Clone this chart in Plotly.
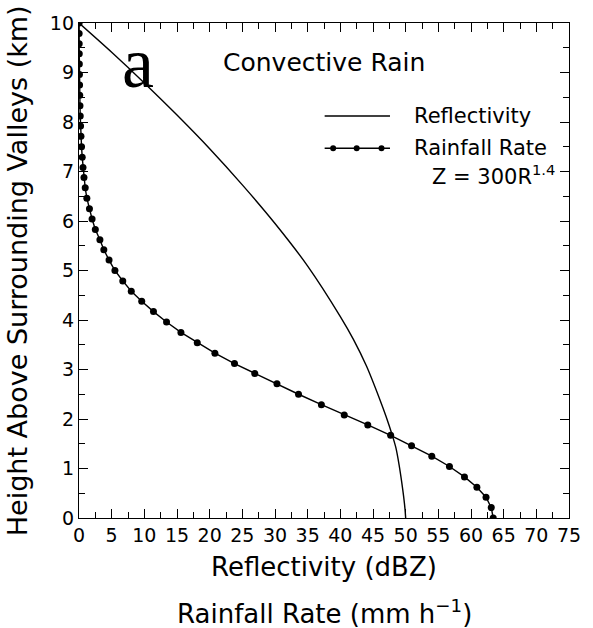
import plotly.graph_objects as go

# Reflectivity profile (dBZ) versus height (km)
refl_dbz = [0, 5, 10, 15, 20, 25, 30, 35, 40, 42, 44, 46, 47, 48, 48.5, 49, 49.4, 49.7, 49.9, 50]
refl_height = [10, 9.41, 8.79, 8.14, 7.46, 6.73, 5.95, 5.09, 4.07, 3.61, 3.07, 2.41, 2.05,
               1.65, 1.42, 1.07, 0.72, 0.42, 0.18, 0]

# Rainfall rate (mm/h) from Z = 300R^1.4, versus height (km)
rain_height = [0, 0.21, 0.42, 0.62, 0.83, 1.04, 1.25, 1.46, 1.67, 1.88,
               2.08, 2.29, 2.50, 2.71, 2.92, 3.12, 3.33, 3.54, 3.75, 3.96,
               4.17, 4.38, 4.58, 4.79, 5.00, 5.21, 5.42, 5.62, 5.83, 6.04,
               6.25, 6.46, 6.67, 6.88, 7.08, 7.29, 7.50, 7.71, 7.92, 8.12,
               8.33, 8.54, 8.75, 8.96, 9.17, 9.38, 9.58, 9.79, 10.0]
rain_rate = [63.4, 63.1, 62.3, 60.9, 59.0, 56.7, 54.0, 50.9, 47.7, 44.2,
             40.6, 37.1, 33.6, 30.3, 26.9, 23.8, 20.8, 18.1, 15.6, 13.4,
             11.4, 9.6, 8.0, 6.7, 5.5, 4.6, 3.8, 3.2, 2.5, 2.0,
             1.6, 1.2, 0.95, 0.76, 0.61, 0.49, 0.39, 0.30, 0.24, 0.19,
             0.15, 0.11, 0.09, 0.07, 0.05, 0.04, 0.03, 0.02, 0.02]

x_ticks = list(range(0, 80, 5))
y_ticks = list(range(0, 11))

FONT = "DejaVu Sans"
INK = "black"

fig = go.Figure()
fig.add_trace(go.Scatter(x=refl_dbz, y=refl_height, mode="lines",
                         line=dict(color=INK, width=1.4, shape="spline", smoothing=0.8),
                         showlegend=False, hoverinfo="skip"))
fig.add_trace(go.Scatter(x=rain_rate, y=rain_height, mode="lines+markers",
                         line=dict(color=INK, width=1.4),
                         marker=dict(color=INK, size=7),
                         showlegend=False, hoverinfo="skip"))

axis_common = dict(showgrid=False, zeroline=False, showline=True, linecolor=INK, linewidth=1.4,
                   mirror="allticks", ticks="inside", ticklen=9, tickwidth=1.2, tickcolor=INK,
                   tickfont=dict(family=FONT, size=19, color=INK))

fig.update_xaxes(range=[0, 75], tickvals=x_ticks, ticktext=[str(v) for v in x_ticks],
                 minor=dict(dtick=2.5, ticks="inside", ticklen=6, tickwidth=1.2, tickcolor=INK),
                 **axis_common)
fig.update_yaxes(range=[0, 10], tickvals=y_ticks, ticktext=[str(v) for v in y_ticks],
                 minor=dict(dtick=0.5, ticks="inside", ticklen=6, tickwidth=1.2, tickcolor=INK),
                 **axis_common)

ann = []
ann.append(dict(x=0.5, y=-0.098, xref="paper", yref="paper", text="Reflectivity (dBZ)",
                showarrow=False, xanchor="center", yanchor="middle",
                font=dict(family=FONT, size=26, color=INK)))
ann.append(dict(x=0.5, y=-0.19, xref="paper", yref="paper",
                text="Rainfall Rate (mm h<sup>\u22121</sup>)",
                showarrow=False, xanchor="center", yanchor="middle",
                font=dict(family=FONT, size=26, color=INK)))
ann.append(dict(x=-0.125, y=0.5, xref="paper", yref="paper",
                text="Height Above Surrounding Valleys (km)", textangle=-90,
                showarrow=False, xanchor="center", yanchor="middle",
                font=dict(family=FONT, size=27, color=INK)))
ann.append(dict(x=37.5, y=9.2, xref="x", yref="y", text="Convective Rain",
                showarrow=False, xanchor="center", yanchor="middle",
                font=dict(family=FONT, size=25, color=INK)))
ann.append(dict(x=9.0, y=9.2, xref="x", yref="y", text="a",
                showarrow=False, xanchor="center", yanchor="middle",
                font=dict(family="Liberation Serif", size=72, color=INK)))

# Key
ann.append(dict(x=51.0, y=8.12, xref="x", yref="y", text="Reflectivity",
                showarrow=False, xanchor="left", yanchor="middle",
                font=dict(family=FONT, size=21, color=INK)))
ann.append(dict(x=51.0, y=7.47, xref="x", yref="y", text="Rainfall Rate",
                showarrow=False, xanchor="left", yanchor="middle",
                font=dict(family=FONT, size=21, color=INK)))
ann.append(dict(x=53.7, y=6.93, xref="x", yref="y", text="Z = 300R<sup>1.4</sup>",
                showarrow=False, xanchor="left", yanchor="middle",
                font=dict(family=FONT, size=21, color=INK)))

shapes = [
    dict(type="line", xref="x", yref="y", x0=37.6, x1=47.6, y0=8.12, y1=8.12,
         line=dict(color=INK, width=1.4)),
    dict(type="line", xref="x", yref="y", x0=37.6, x1=47.6, y0=7.47, y1=7.47,
         line=dict(color=INK, width=1.4)),
]
for kx in [38.9, 42.5, 46.3]:
    shapes.append(dict(type="circle", xref="x", yref="y", xsizemode="pixel", ysizemode="pixel",
                       xanchor=kx, yanchor=7.47, x0=-3, x1=3, y0=-3, y1=3,
                       fillcolor=INK, line=dict(color=INK, width=0)))

fig.update_layout(width=593, height=628, margin=dict(l=79, r=13, t=21, b=110),
                  plot_bgcolor="white", paper_bgcolor="white",
                  annotations=ann, shapes=shapes, showlegend=False)

fig.write_html("out.html")
